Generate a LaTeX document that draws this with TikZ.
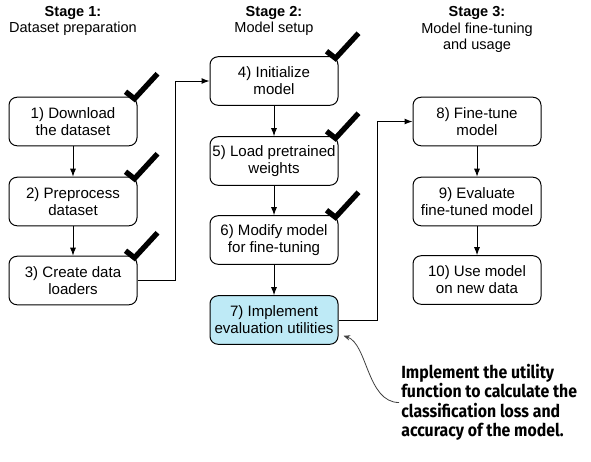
\documentclass[tikz,border=0pt]{standalone}
\usepackage{fontspec}
\setmainfont{Liberation Sans}
\newfontfamily\notefont{Fira Sans}[FakeStretch=0.9]
\usetikzlibrary{arrows.meta}
\definecolor{evalcyan}{RGB}{190,234,246}
\tikzset{every picture/.style={line width=0.5pt}}

\begin{document}
\begin{tikzpicture}[x=0.75pt,y=0.75pt,yscale=-1,xscale=1,
  stepbox/.style={draw, line width=0.75pt, rounded corners=6pt, minimum width=96pt, minimum height=36.4pt, align=center, inner sep=1pt, font=\fontsize{11.3}{12.9}\selectfont},
  stagehead/.style={align=center, inner sep=0pt, font=\fontsize{10.9}{12.4}\selectfont},
  flow/.style={line width=0.75pt, -{Latex[length=6pt,width=4.5pt]}},
  tick/.style={line width=4pt},
  pointer/.style={draw=black!75, line width=0.6pt, -{Stealth[length=5pt,width=4pt]}},
  note/.style={anchor=west, align=left, inner sep=0pt, font=\notefont\bfseries\fontsize{13.2}{14.6}\selectfont}]
\useasboundingbox (0,0) rectangle (591,461);

% Stage headers
\node[stagehead] (s1) at (73,21) {\textbf{Stage 1:}\\Dataset preparation};
\node[stagehead] (s2) at (274,21) {\textbf{Stage 2:}\\Model setup};
\node[stagehead] (s3) at (477,29.5) {\textbf{Stage 3:}\\Model fine-tuning\\and usage};

% Stage 1
\node[stepbox] (n1) at (73,121.5) {1) Download\\the dataset};
\node[stepbox] (n2) at (73,201.5) {2) Preprocess\\dataset};
\node[stepbox] (n3) at (73,280.5) {3) Create data\\loaders};

% Stage 2
\node[stepbox] (n4) at (274,81) {4) Initialize\\model};
\node[stepbox] (n5) at (274,161) {5) Load pretrained\\weights};
\node[stepbox] (n6) at (274,240) {6) Modify model\\for fine-tuning};
\node[stepbox, fill=evalcyan] (n7) at (274,320) {7) Implement\\evaluation utilities};

% Stage 3
\node[stepbox] (n8) at (477,121.5) {8) Fine-tune\\model};
\node[stepbox] (n9) at (477,201.5) {9) Evaluate\\fine-tuned model};
\node[stepbox] (n10) at (477,280) {10) Use model\\on new data};

% Arrows
\draw[flow] (n1) -- (n2);
\draw[flow] (n2) -- (n3);
\draw[flow] (n4) -- (n5);
\draw[flow] (n5) -- (n6);
\draw[flow] (n6) -- (n7);
\draw[flow] (n8) -- (n9);
\draw[flow] (n9) -- (n10);
\draw[flow] (n3.east) -- ++(38,0) |- (n4.west);
\draw[flow] (n7.east) -- ++(39,0) |- (n8.west);

% Check marks
\foreach \n in {n1,n2,n3,n4,n5,n6}
  \draw[tick] (\n.north east) ++(-12,-5) -- ++(9,7) -- ++(23,-25);

% Note
\node[note] (note) at (401,402.5) {Implement the utility\\function to calculate the\\classification loss and\\accuracy of the model.};
\draw[pointer] ([xshift=-1.5pt]note.west) .. controls +(-32,0) and +(24,8) .. ([shift={(5,-9)}]n7.south east);

\end{tikzpicture}
\end{document}
